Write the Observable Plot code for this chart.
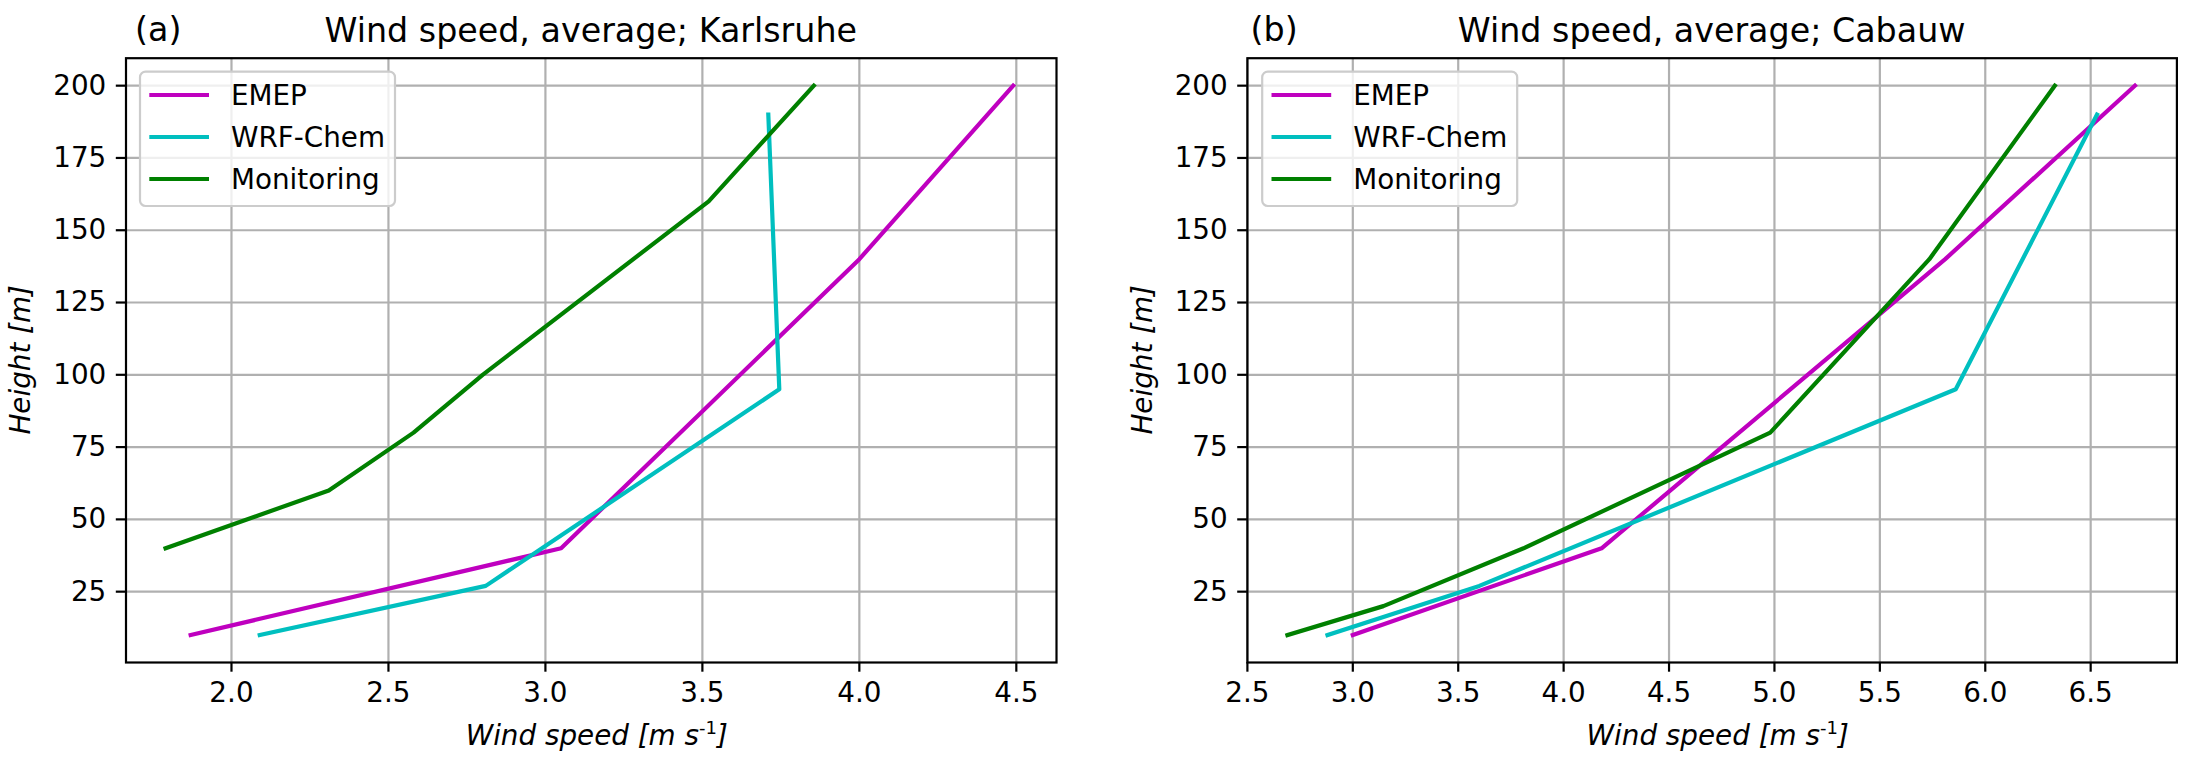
<!DOCTYPE html>
<html><head><meta charset="utf-8">
<script src="https://cdn.jsdelivr.net/npm/d3@7"></script>
<script src="https://cdn.jsdelivr.net/npm/@observablehq/plot@0.6"></script>
<style>
html,body{margin:0;padding:0;background:#fff;}
#fig{position:relative;width:2191px;height:763px;overflow:hidden;background:#fff;}
#fig svg{position:absolute;top:0;}
</style></head><body><div id="fig"></div>
<script>
// ---- data ----
const seriesNames = ["EMEP", "WRF-Chem", "Monitoring"];
const seriesColors = ["#bf00bf", "#00bfbf", "#008000"];
const heightTicks = [25, 50, 75, 100, 125, 150, 175, 200];
const heightDomain = [0.5, 209.5];

// Karlsruhe
const karlsruheSpeedTicks = [2.0, 2.5, 3.0, 3.5, 4.0, 4.5];
const karlsruheSpeedDomain = [1.664, 4.628];
const karlsruheEmepSpeed = [1.87, 3.05, 4.00, 4.49];
const karlsruheEmepHeight = [10, 40, 140, 200];
const karlsruheWrfSpeed = [2.09, 2.81, 3.745, 3.71];
const karlsruheWrfHeight = [10, 27, 95, 190];
const karlsruheMonSpeed = [1.79, 2.31, 2.58, 2.80, 3.52, 3.855];
const karlsruheMonHeight = [40, 60, 80, 100, 160, 200];

// Cabauw
const cabauwSpeedTicks = [2.5, 3.0, 3.5, 4.0, 4.5, 5.0, 5.5, 6.0, 6.5];
const cabauwSpeedDomain = [2.5, 6.909];
const cabauwEmepSpeed = [3.00, 4.18, 5.81, 6.71];
const cabauwEmepHeight = [10, 40, 140, 200];
const cabauwWrfSpeed = [2.88, 3.60, 5.86, 6.53];
const cabauwWrfHeight = [10, 27, 95, 190];
const cabauwMonSpeed = [2.69, 3.145, 3.81, 4.98, 5.735, 6.33];
const cabauwMonHeight = [10, 20, 40, 80, 140, 200];

// ---- build tables ----
function rowsOf(name, speeds, heights) {
  return speeds.map((s, i) => ({series: name, speed: s, height: heights[i]}));
}
const karlsruheRows = [
  ...rowsOf("EMEP", karlsruheEmepSpeed, karlsruheEmepHeight),
  ...rowsOf("WRF-Chem", karlsruheWrfSpeed, karlsruheWrfHeight),
  ...rowsOf("Monitoring", karlsruheMonSpeed, karlsruheMonHeight)
];
const cabauwRows = [
  ...rowsOf("EMEP", cabauwEmepSpeed, cabauwEmepHeight),
  ...rowsOf("WRF-Chem", cabauwWrfSpeed, cabauwWrfHeight),
  ...rowsOf("Monitoring", cabauwMonSpeed, cabauwMonHeight)
];

const FONT = "DejaVu Sans";
const FS = 27.8, TFS = 33.3, LW = 2.2;

function panel(cfg) {
  const svg = Plot.plot({
    width: cfg.width, height: 763,
    marginLeft: cfg.ml, marginRight: cfg.mr, marginTop: 57.7, marginBottom: 101,
    style: {fontFamily: FONT, fontSize: FS + "px", background: "white", color: "black", overflow: "visible"},
    x: {domain: cfg.xDomain},
    y: {domain: heightDomain},
    color: {domain: seriesNames, range: seriesColors},
    marks: [
      Plot.gridX(cfg.xTicks, {stroke: "#b0b0b0", strokeOpacity: 1, strokeWidth: LW}),
      Plot.gridY(heightTicks, {stroke: "#b0b0b0", strokeOpacity: 1, strokeWidth: LW}),
      Plot.line(cfg.rows, {x: "speed", y: "height", z: "series", stroke: "series",
        strokeWidth: 4.2, strokeLinejoin: "round", strokeLinecap: "square"}),
      Plot.frame({stroke: "black", strokeWidth: LW}),
      Plot.axisX(cfg.xTicks, {tickFormat: d3.format(".1f"), tickSize: 9.7, tickPadding: 10,
        strokeWidth: LW, label: null, fontSize: FS}),
      Plot.axisY(heightTicks, {tickSize: 9.7, tickPadding: 10, strokeWidth: LW, label: null, fontSize: FS})
    ]
  });
  svg.style.left = cfg.left + "px";
  const s = d3.select(svg);
  const axL = cfg.ml, axR = cfg.width - cfg.mr, cx = (axL + axR) / 2;
  // title
  s.append("text").attr("x", cx).attr("y", 41.7).attr("text-anchor", "middle")
    .attr("font-family", FONT).attr("font-size", TFS).attr("fill", "black").text(cfg.title);
  s.append("text").attr("x", cfg.letterX).attr("y", 40.5).attr("text-anchor", "start")
    .attr("font-family", FONT).attr("font-size", TFS).attr("fill", "black").text(cfg.letter);
  // x label
  const xl = s.append("text").attr("x", cx + 6).attr("y", 745).attr("text-anchor", "middle")
    .attr("font-family", FONT).attr("font-size", FS).attr("font-style", "italic").attr("fill", "black");
  xl.append("tspan").text("Wind speed [m s");
  xl.append("tspan").attr("dy", -11).attr("font-size", 18).attr("font-style", "normal").text("-1");
  xl.append("tspan").attr("dy", 11).text("]");
  // y label
  s.append("text").attr("transform", `translate(${cfg.ylabX},${(57.7 + 662) / 2}) rotate(-90)`)
    .attr("text-anchor", "middle").attr("font-family", FONT).attr("font-size", FS)
    .attr("font-style", "italic").attr("fill", "black").text("Height [m]");
  // legend
  const lx = axL + cfg.legDx, ly = 71.7;
  const g = s.append("g").attr("text-anchor", "start");
  g.append("rect").attr("x", lx).attr("y", ly).attr("width", 255).attr("height", 134.3).attr("rx", 5.6)
    .attr("fill", "white").attr("fill-opacity", 0.8).attr("stroke", "#cccccc").attr("stroke-width", LW);
  seriesNames.forEach((n, i) => {
    const yy = 95 + i * 42;
    g.append("line").attr("x1", lx + 9.3).attr("x2", lx + 69).attr("y1", yy).attr("y2", yy)
      .attr("stroke", seriesColors[i]).attr("stroke-width", 4.2);
    g.append("text").attr("x", lx + 91).attr("y", yy + 10).attr("text-anchor", "start")
      .attr("font-family", FONT).attr("font-size", FS).attr("fill", "black").text(n);
  });
  document.getElementById("fig").appendChild(svg);
}

panel({left: 0, width: 1096, ml: 125.5, mr: 40, xDomain: karlsruheSpeedDomain, xTicks: karlsruheSpeedTicks,
  rows: karlsruheRows, title: "Wind speed, average; Karlsruhe", letter: "(a)", letterX: 135, ylabX: 30, legDx: 14.5});
panel({left: 1096, width: 1095, ml: 150.9, mr: 14.6, xDomain: cabauwSpeedDomain, xTicks: cabauwSpeedTicks,
  rows: cabauwRows, title: "Wind speed, average; Cabauw", letter: "(b)", letterX: 154.5, ylabX: 56, legDx: 15.3});
</script></body></html>
